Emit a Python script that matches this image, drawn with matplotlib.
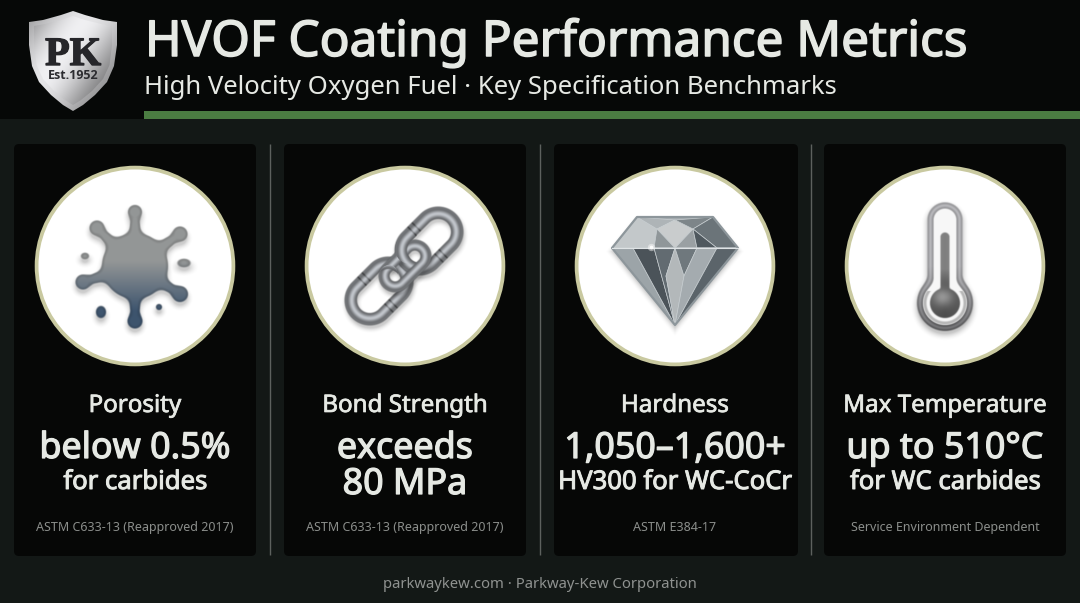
import matplotlib
matplotlib.use('Agg')
import matplotlib.pyplot as plt
import matplotlib.patheffects as pe
import numpy as np
from matplotlib.patches import Circle, FancyBboxPatch, Polygon, Rectangle

plt.rcParams['font.family'] = ['Noto Sans', 'DejaVu Sans']

title = 'HVOF Coating Performance Metrics'
subtitle = 'High Velocity Oxygen Fuel · Key Specification Benchmarks'
footer = 'parkwaykew.com · Parkway-Kew Corporation'

metrics = ['Porosity', 'Bond Strength', 'Hardness', 'Max Temperature']
values = [['below 0.5%'], ['exceeds', '80 MPa'], ['1,050–1,600+'], ['up to 510°C']]
details = ['for carbides', '', 'HV300 for WC-CoCr', 'for WC carbides']
sources = ['ASTM C633-13 (Reapproved 2017)', 'ASTM C633-13 (Reapproved 2017)',
           'ASTM E384-17', 'Service Environment Dependent']

card_lefts = [14, 284, 554, 824]
card_widths = [242, 242, 244, 242]
centers = [135, 405, 675, 945]
separators = [270, 540, 811]

TEXT = '#e6e9e4'
BG = '#131816'
HEAD = '#060807'
CARD = '#060706'
GREEN = '#4b7d42'
RING = '#c9c9a0'


def heavy(w):
    # no medium cut is installed, so thicken the regular one a little
    return [pe.withStroke(linewidth=w, foreground=TEXT)]


def smooth(d, w=0.7):
    return np.clip(0.5 - d / (2 * w), 0, 1)


def grid(x0, x1, y0, y1, ss=2):
    xs = np.arange(x0, x1, 1 / ss) + 0.25
    ys = np.arange(y0, y1, 1 / ss) + 0.25
    return np.meshgrid(xs, ys)


def put(ax, rgb, alpha, box, z, clip=None):
    img = np.dstack([rgb[..., 0], rgb[..., 1], rgb[..., 2], alpha])
    im = ax.imshow(np.clip(img, 0, 1), extent=(box[0], box[1], box[3], box[2]),
                   zorder=z, interpolation='bilinear', aspect='auto')
    if clip is not None:
        im.set_clip_path(clip)
    return im


def shadow(ax, d, box, z, strength=0.28, blur=7):
    a = strength * np.clip(1 - (d + 1) / blur, 0, 1) ** 2
    put(ax, np.zeros(d.shape + (3,)), a, box, z)


def capsule(X, Y, a, b, ra, rb):
    ax_, ay_ = a
    bx, by = b
    t = ((X - ax_) * (bx - ax_) + (Y - ay_) * (by - ay_)) / ((bx - ax_) ** 2 + (by - ay_) ** 2)
    t = np.clip(t, 0, 1)
    return np.hypot(X - ax_ - t * (bx - ax_), Y - ay_ - t * (by - ay_)) - (ra + t * (rb - ra))


def smin(a, b, k=5.0):
    h = np.clip(0.5 + 0.5 * (b - a) / k, 0, 1)
    return b + (a - b) * h - k * h * (1 - h)


def draw_splat(ax, cx, cy):
    box = (cx - 70, cx + 70, cy - 75, cy + 80)
    X, Y = grid(*box)
    d = np.hypot(X - cx, Y - cy) - 33
    arms = [((0, -54), 7), ((-38, -38), 7.5), ((45, -32), 7.5), ((-52, 16), 7.5), ((45, 28), 8), ((0, 55), 7.5)]
    for (dx, dy), r in arms:
        d = smin(d, capsule(X, Y, (cx + dx * 0.4, cy + dy * 0.4), (cx + dx * 0.85, cy + dy * 0.85), 7, 4.5), 7)
        d = smin(d, np.hypot(X - cx - dx, Y - cy - dy) - r, 5)
    drops = [(-50, -10, 4, 3.2), (49, -3, 6.5, 4.2), (-34, 46, 5, 6), (24, 41, 3, 3)]
    for dx, dy, rx, ry in drops:
        e = np.hypot((X - cx - dx) / rx, (Y - cy - dy) / ry)
        d = np.minimum(d, (e - 1) * min(rx, ry))
    shadow(ax, np.roll(d, 8, axis=0), box, 3, 0.2, 7)
    # vertical tone, grey on top and steel blue below
    t = np.clip((Y - (cy - 5)) / 50, 0, 1)
    top = np.array([0.58, 0.59, 0.59])
    bot = np.array([0.24, 0.33, 0.43])
    rgb = top + (bot - top) * t[..., None]
    rim = np.clip(1 + d / 3, 0, 1)[..., None]
    rgb = rgb * (1 - 0.18 * rim)
    put(ax, rgb, smooth(d), box, 4)


def draw_link(ax, c, half, r, tube, z, clip=None, ang=-45):
    a = np.radians(ang)
    ux, uy = np.cos(a), np.sin(a)
    box = (c[0] - 48, c[0] + 48, c[1] - 48, c[1] + 48)
    X, Y = grid(*box)
    u = (X - c[0]) * ux + (Y - c[1]) * uy
    v = -(X - c[0]) * uy + (Y - c[1]) * ux
    q = np.clip(u, -half, half)
    off = np.hypot(u - q, v) - r
    d = np.abs(off) - tube
    if clip is None:
        shadow(ax, np.roll(np.roll(d, 7, axis=0), 2, axis=1), box, z - 0.5, 0.2, 6)
    s = off / tube
    b = 0.36 + 0.4 * np.exp(-((s + 0.15) / 0.5) ** 2) + 0.08 * np.exp(-((s - 0.8) / 0.2) ** 2)
    # collars on the straight runs
    if r > 15:
        b = b - 0.2 * np.exp(-((np.abs(u + 2) - 3) / 0.9) ** 2)
    rgb = np.dstack([b * 1.0, b * 1.02, b * 1.05])
    put(ax, rgb, smooth(d), box, z, clip)


def draw_chain(ax, cx, cy):
    upper = (cx + 24, cy - 25)
    lower = (cx - 26, cy + 25)
    draw_link(ax, lower, 13, 19, 6.2, 4)
    draw_link(ax, upper, 13, 19, 6.2, 4)
    draw_link(ax, (cx, cy), 14, 11, 5.5, 5)
    # upper link passes back over the middle one
    patch = Circle((cx + 5, cy - 17), 15, transform=ax.transData)
    draw_link(ax, upper, 13, 19, 6.2, 6, clip=patch)
    patch = Circle((cx - 16, cy + 8), 9, transform=ax.transData)
    draw_link(ax, lower, 13, 19, 6.2, 6, clip=patch)


def draw_diamond(ax, cx, cy):
    p = {
        'tl': (-38, -49), 'tr': (38, -49), 'gl': (-63, -18), 'gr': (63, -18), 'bt': (0, 59),
        'a': (-18, -37), 'b': (0, -46), 'c': (18, -37), 'm': (0, -18), 'l': (-21, -18), 'r': (22, -18),
        'fl': (-42, -18), 'fr': (42, -18), 'i1': (-9, 10), 'i2': (9, 10),
    }
    facets = [
        (['tl', 'tr', 'gr', 'gl'], '#a6adb1'),
        (['tl', 'a', 'l', 'fl', 'gl'], '#c3c8ca'),
        (['tl', 'b', 'a'], '#aeb4b7'),
        (['b', 'c', 'm', 'a'], '#c9cccd'),
        (['a', 'm', 'l'], '#8f9699'),
        (['b', 'tr', 'c'], '#7d8589'),
        (['c', 'r', 'm'], '#9aa0a3'),
        (['tr', 'gr', 'fr', 'c'], '#6b7479'),
        (['c', 'fr', 'r'], '#4f585e'),
        (['gl', 'gr', 'bt'], '#7f888d'),
        (['gl', 'fl', 'bt'], '#9ca4a8'),
        (['fl', 'l', 'bt'], '#4b5359'),
        (['l', 'm', 'i1', 'bt'], '#626b71'),
        (['m', 'i1', 'bt', 'i2'], '#b3b8ba'),
        (['m', 'r', 'i2'], '#6f787d'),
        (['r', 'fr', 'bt', 'i2'], '#a4abaf'),
        (['fr', 'gr', 'bt'], '#5b646a'),
    ]
    box = (cx - 80, cx + 80, cy - 65, cy + 85)
    X, Y = grid(*box)
    ax_x = np.abs(X - cx)
    d = np.maximum.reduce([
        ax_x * 0.774 + (Y - cy - 59) * 0.633,
        ax_x * 0.778 - (Y - cy + 49) * 0.628 - 38 * 0.778,
        cy - 49 - Y,
    ])
    shadow(ax, np.roll(d, 7, axis=0), box, 3, 0.2, 7)
    for names, col in facets:
        pts = [(cx + p[n][0], cy + p[n][1]) for n in names]
        ax.add_patch(Polygon(pts, closed=True, fc=col, ec='#c8ced1', lw=0.5, zorder=4, joinstyle='round'))
    ax.add_patch(Polygon([(cx + p[n][0], cy + p[n][1]) for n in ['tl', 'tr', 'gr', 'bt', 'gl']],
                         closed=True, fc='none', ec='#8d969b', lw=1.6, zorder=5, joinstyle='round'))
    ax.plot([cx - 63, cx + 63], [cy - 18, cy - 18], color='#dfe3e5', lw=0.8, zorder=5)
    ax.scatter([cx - 24], [cy - 19], s=28, color='white', alpha=0.45, lw=0, zorder=5)
    ax.scatter([cx - 24], [cy - 19], s=7, color='white', alpha=0.9, lw=0, zorder=5)


def draw_thermo(ax, cx, cy):
    box = (cx - 50, cx + 50, cy - 75, cy + 75)
    X, Y = grid(*box)
    bulb_y = cy + 37
    top_y = cy - 46
    outer = smin(capsule(X, Y, (cx, top_y), (cx, bulb_y), 17.5, 17.5), np.hypot(X - cx, Y - bulb_y) - 28, 6)
    shadow(ax, np.roll(outer, 7, axis=0), box, 3, 0.22, 8)
    white = np.ones(X.shape + (3,)) * 0.97
    put(ax, white, smooth(outer), box, 4)
    wall = np.abs(outer + 3) - 3
    s = (outer + 3) / 3
    b = 0.74 - 0.2 * np.abs(s) - 0.26 * np.clip((Y - cy) / 60, 0, 1)
    put(ax, np.dstack([b, b, b * 1.02]), smooth(wall), box, 5)
    ring = np.abs(np.hypot(X - cx, Y - bulb_y) - 20) - 1.5
    put(ax, np.ones(X.shape + (3,)) * 0.72, smooth(ring) * (Y > bulb_y - 12), box, 5)
    inner = smin(capsule(X, Y, (cx, cy - 29), (cx, bulb_y), 4.5, 4.5), np.hypot(X - cx, Y - bulb_y) - 15, 2)
    t = np.clip((X - cx + 15) / 30, 0, 1)
    b = 0.3 + 0.28 * np.exp(-((Y - bulb_y + 6) / 9) ** 2) * np.exp(-((X - cx + 2) / 10) ** 2) + 0.08 * np.abs(t - 0.5)
    b = b + 0.2 * np.clip((bulb_y - 14 - Y) / 20, 0, 1)
    put(ax, np.dstack([b, b, b]), smooth(inner), box, 6)


def draw_shield(ax):
    cx = 73
    half = [(0, 11), (-12, 15), (-30, 20), (-44, 22), (-44, 45), (-41, 66), (-34, 82), (-22, 95), (-10, 105), (0, 111)]
    inner_half = [(0, 16), (-12, 20), (-28, 24), (-39, 26), (-39, 45), (-36.5, 65), (-30, 79), (-19, 91), (-8, 100), (0, 105)]
    box = (25, 121, 8, 114)
    X, Y = grid(*box)
    for shape, lo, hi, z in [(half, 0.6, 0.9, 3), (inner_half, 0.5, 0.94, 4)]:
        outline = [(cx + x, y) for x, y in shape] + [(cx - x, y) for x, y in shape[::-1][1:-1]]
        patch = Polygon(outline, closed=True, fc='none', ec='none', transform=ax.transData)
        ax.add_patch(patch)
        t = (X - 29) / 87 * 0.55 + (Y - 11) / 100 * 0.45
        b = lo + (hi - lo) * np.clip(np.sin(t * 3.6 + 0.15), 0, 1) ** 1.5
        put(ax, np.dstack([b, b, b * 1.01]), np.ones(X.shape), box, z, clip=patch)
    ax.text(cx, 65, 'PK', family=['Liberation Serif', 'DejaVu Serif'], weight='bold', size=29,
            color='#26262a', ha='center', va='baseline', zorder=6,
            path_effects=[pe.withStroke(linewidth=1.0, foreground='#26262a')])
    ax.text(cx, 79, 'Est.1952', family=['Open Sans', 'DejaVu Sans'], weight='bold', size=9,
            color='#2c2c30', ha='center', va='baseline', zorder=6)


def main():
    fig = plt.figure(figsize=(10.8, 6.03), dpi=100, facecolor=BG)
    ax = fig.add_axes([0, 0, 1, 1])
    ax.set_axis_off()

    ax.add_patch(Rectangle((0, 0), 1080, 119, fc=HEAD, ec='none', zorder=1))
    ax.add_patch(Rectangle((144, 111), 936, 8, fc=GREEN, ec='none', zorder=2))
    draw_shield(ax)

    ax.text(145, 56, title, size=35.6, color=TEXT, va='baseline', zorder=5, path_effects=heavy(1.1))
    ax.text(144, 94, subtitle, size=18.5, color=TEXT, va='baseline', zorder=5)

    for x in separators:
        ax.plot([x, x], [144, 555], color='#5d615e', lw=1.0, zorder=2, solid_capstyle='butt')

    icons = [draw_splat, draw_chain, draw_diamond, draw_thermo]
    for i, cx in enumerate(centers):
        card = FancyBboxPatch((card_lefts[i] + 3, 147), card_widths[i] - 6, 406,
                              boxstyle='round,pad=3,rounding_size=5', fc=CARD, ec='none', zorder=1)
        ax.add_patch(card)
        ax.add_patch(Circle((cx, 266), 98.4, fc='white', ec=RING, lw=2.7, zorder=2))
        icons[i](ax, cx, 266)

        ax.text(cx, 412, metrics[i], size=17.4, color=TEXT, ha='center', va='baseline', zorder=5,
                path_effects=heavy(0.5))
        lines = values[i]
        if len(lines) == 2:
            ax.text(cx, 458, lines[0], size=25.8, color=TEXT, ha='center', va='baseline', zorder=5,
                    path_effects=heavy(0.9))
            ax.text(cx, 494, lines[1], size=25.8, color=TEXT, ha='center', va='baseline', zorder=5,
                    path_effects=heavy(0.9))
        else:
            ax.text(cx, 458, lines[0], size=25.8, color=TEXT, ha='center', va='baseline', zorder=5,
                    path_effects=heavy(0.9))
            ax.text(cx, 489, details[i], size=18.5, color=TEXT, ha='center', va='baseline', zorder=5,
                    path_effects=heavy(0.7))
        ax.text(cx, 531, sources[i], size=9, color='#8b8e8b', ha='center', va='baseline', zorder=5)

    ax.text(540, 588, footer, size=10.7, color='#8f9290', ha='center', va='baseline', zorder=5)

    ax.set_xlim(0, 1080)
    ax.set_ylim(603, 0)
    fig.savefig('out.png', dpi=100, facecolor=BG)


if __name__ == '__main__':
    main()
